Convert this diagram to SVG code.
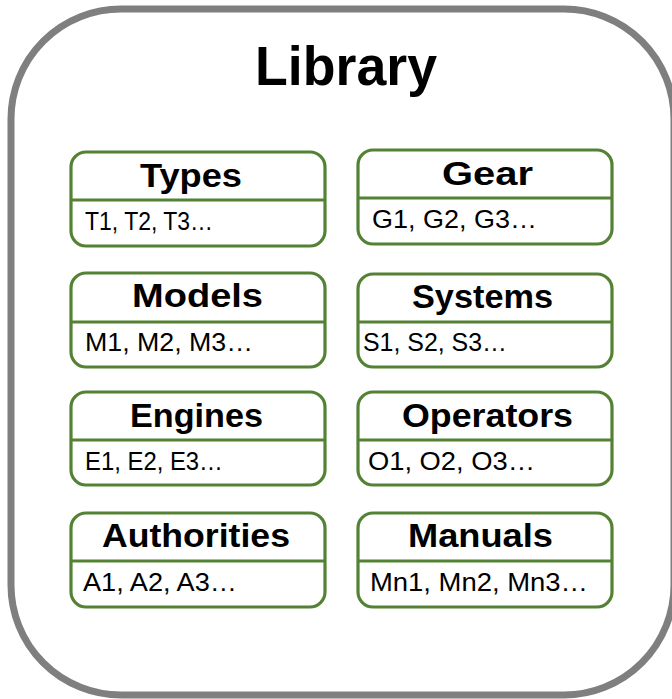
<svg xmlns="http://www.w3.org/2000/svg" width="672" height="699" viewBox="0 0 672 699">
<style>
.frame{fill:#ffffff;stroke:#7f7f7f;stroke-width:7}
.box{fill:#ffffff;stroke:#548235;stroke-width:3.2}
.div{stroke:#548235;stroke-width:3.2}
.ttl{font-family:"Liberation Sans",Arial,sans-serif;font-weight:bold;font-size:34px;fill:#000}
.sub{font-family:"Liberation Sans",Arial,sans-serif;font-size:25px;fill:#000}
.main{font-family:"Liberation Sans",Arial,sans-serif;font-weight:bold;font-size:55px;fill:#000}
</style>
<rect class="frame" x="11" y="9" width="663" height="686" rx="110" ry="110"/>
<text class="main" x="255" y="85" textLength="182" lengthAdjust="spacingAndGlyphs">Library</text>
<g id="types">
<rect class="box" x="71" y="152" width="254" height="94" rx="15"/>
<line class="div" x1="71" y1="200" x2="325" y2="200"/>
<text class="ttl" x="140" y="187" textLength="102" lengthAdjust="spacingAndGlyphs">Types</text>
<text class="sub" x="85" y="230" textLength="128" lengthAdjust="spacingAndGlyphs">T1, T2, T3…</text>
</g>
<g id="gear">
<rect class="box" x="358" y="150" width="254" height="94" rx="15"/>
<line class="div" x1="358" y1="198" x2="612" y2="198"/>
<text class="ttl" x="442" y="185" textLength="91" lengthAdjust="spacingAndGlyphs">Gear</text>
<text class="sub" x="372" y="228" textLength="165" lengthAdjust="spacingAndGlyphs">G1, G2, G3…</text>
</g>
<g id="models">
<rect class="box" x="71" y="273" width="254" height="94" rx="15"/>
<line class="div" x1="71" y1="322" x2="325" y2="322"/>
<text class="ttl" x="132" y="307" textLength="131" lengthAdjust="spacingAndGlyphs">Models</text>
<text class="sub" x="85" y="351" textLength="168" lengthAdjust="spacingAndGlyphs">M1, M2, M3…</text>
</g>
<g id="systems">
<rect class="box" x="358" y="274" width="254" height="93" rx="15"/>
<line class="div" x1="358" y1="322" x2="612" y2="322"/>
<text class="ttl" x="412" y="308" textLength="141" lengthAdjust="spacingAndGlyphs">Systems</text>
<text class="sub" x="363" y="351" textLength="144" lengthAdjust="spacingAndGlyphs">S1, S2, S3…</text>
</g>
<g id="engines">
<rect class="box" x="71" y="392" width="254" height="93" rx="15"/>
<line class="div" x1="71" y1="440" x2="325" y2="440"/>
<text class="ttl" x="130" y="427" textLength="133" lengthAdjust="spacingAndGlyphs">Engines</text>
<text class="sub" x="85" y="470" textLength="138" lengthAdjust="spacingAndGlyphs">E1, E2, E3…</text>
</g>
<g id="operators">
<rect class="box" x="358" y="392" width="254" height="93" rx="15"/>
<line class="div" x1="358" y1="440" x2="612" y2="440"/>
<text class="ttl" x="402" y="427" textLength="171" lengthAdjust="spacingAndGlyphs">Operators</text>
<text class="sub" x="368" y="470" textLength="167" lengthAdjust="spacingAndGlyphs">O1, O2, O3…</text>
</g>
<g id="authorities">
<rect class="box" x="71" y="513" width="254" height="94" rx="15"/>
<line class="div" x1="71" y1="561" x2="325" y2="561"/>
<text class="ttl" x="102" y="547" textLength="188" lengthAdjust="spacingAndGlyphs">Authorities</text>
<text class="sub" x="83" y="591" textLength="154" lengthAdjust="spacingAndGlyphs">A1, A2, A3…</text>
</g>
<g id="manuals">
<rect class="box" x="358" y="513" width="254" height="94" rx="15"/>
<line class="div" x1="358" y1="561" x2="612" y2="561"/>
<text class="ttl" x="408" y="547" textLength="145" lengthAdjust="spacingAndGlyphs">Manuals</text>
<text class="sub" x="370" y="591" textLength="218" lengthAdjust="spacingAndGlyphs">Mn1, Mn2, Mn3…</text>
</g>
<g id="connectors"></g>
</svg>
